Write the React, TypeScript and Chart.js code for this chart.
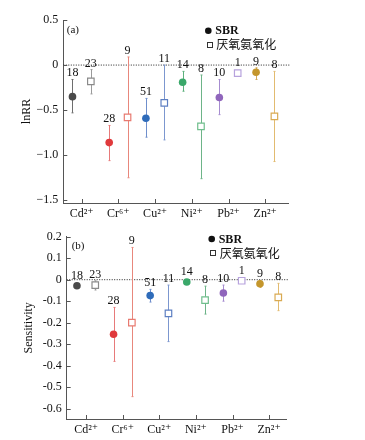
import React, { useEffect, useRef } from "react";
import { Chart, registerables } from "chart.js";

Chart.register(...registerables);

// ---------- data ----------
const categories = ["Cd²⁺", "Cr⁶⁺", "Cu²⁺", "Ni²⁺", "Pb²⁺", "Zn²⁺"];
const seriesNames = ["SBR", "厌氧氨氧化"];

// panel (a) lnRR
const lnrrSbrMean = [-0.35, -0.86, -0.59, -0.19, -0.36, -0.08];
const lnrrSbrLo = [-0.53, -1.06, -0.8, -0.29, -0.55, -0.16];
const lnrrSbrHi = [-0.16, -0.67, -0.37, -0.07, -0.16, -0.03];
const lnrrSbrN = [18, 28, 51, 14, 10, 9];
const lnrrAnaMean = [-0.18, -0.58, -0.42, -0.68, -0.09, -0.57];
const lnrrAnaLo = [-0.32, -1.25, -0.83, -1.26, null, -1.07];
const lnrrAnaHi = [-0.05, 0.09, 0.0, -0.11, null, -0.07];
const lnrrAnaN = [23, 9, 11, 8, 1, 8];
const lnrrTicks = [0.5, 0, -0.5, -1.0, -1.5];

// panel (b) sensitivity
const sensSbrMean = [-0.028, -0.254, -0.074, -0.011, -0.062, -0.019];
const sensSbrLo = [-0.036, -0.38, -0.104, -0.016, -0.1, -0.036];
const sensSbrHi = [-0.02, -0.129, -0.045, -0.006, -0.025, -0.005];
const sensSbrN = [18, 28, 51, 14, 10, 9];
const sensAnaMean = [-0.025, -0.2, -0.157, -0.095, -0.005, -0.082];
const sensAnaLo = [-0.048, -0.544, -0.288, -0.16, null, -0.144];
const sensAnaHi = [-0.005, 0.15, -0.025, -0.03, null, -0.017];
const sensAnaN = [23, 9, 11, 8, 1, 8];
const sensTicks = [0.2, 0.1, 0, -0.1, -0.2, -0.3, -0.4, -0.5, -0.6];

// ---------- styles ----------
const sbrPointColors = ["#4a4a4a", "#e0393c", "#2f6cba", "#3aa86a", "#9066bc", "#c4962c"];
const anaPointColors = ["#8a8a8a", "#e87a70", "#5d7fc2", "#6fbe8c", "#b7a2dd", "#d9aa52"];
const sbrWhiskerColors = ["#6e6e6e", "#e77a7a", "#6f8fcc", "#5cb07c", "#a68cd0", "#d2aa5c"];
const anaWhiskerColors = ["#9a9a9a", "#e8877c", "#7c97cf", "#6db488", "#bfaee0", "#e2bb70"];

const SERIF = "'Liberation Serif', 'DejaVu Serif', serif";
const CJK = "'Noto Sans CJK SC', sans-serif";
const OFFSET = 0.25;

type Panel = {
  sbrMean: number[]; sbrLo: (number | null)[]; sbrHi: (number | null)[]; sbrN: number[];
  anaMean: number[]; anaLo: (number | null)[]; anaHi: (number | null)[]; anaN: number[];
  ticks: number[]; fmt: (v: number) => string;
  yMin: number; yMax: number; xMin: number; xMax: number;
  yTitle: string; tag: string;
  padLeft: number; padRight: number; padTop: number; yAxisW: number; xAxisH: number;
  titlePad: number;
  legendDx: number; legendDy: number; tagDx: number; tagDy: number;
};

const fmtA = (v: number) => (v === 0 ? "0" : v < 0 ? "−" + Math.abs(v).toFixed(1) : v.toFixed(1));
const fmtB = (v: number) => (Math.abs(v) < 1e-9 ? "0" : v < 0 ? "-" + Math.abs(v).toFixed(1) : v.toFixed(1));

const panelA: Panel = {
  sbrMean: lnrrSbrMean, sbrLo: lnrrSbrLo, sbrHi: lnrrSbrHi, sbrN: lnrrSbrN,
  anaMean: lnrrAnaMean, anaLo: lnrrAnaLo, anaHi: lnrrAnaHi, anaN: lnrrAnaN,
  ticks: lnrrTicks, fmt: fmtA, yMin: -1.53, yMax: 0.5, xMin: -0.5, xMax: 5.62,
  yTitle: "lnRR", tag: "(a)",
  padLeft: 0, padRight: 77, padTop: 20, yAxisW: 63.3, xAxisH: 17, titlePad: 20,
  legendDx: 145, legendDy: 10.7, tagDx: 3.5, tagDy: 10,
};

const panelB: Panel = {
  sbrMean: sensSbrMean, sbrLo: sensSbrLo, sbrHi: sensSbrHi, sbrN: sensSbrN,
  anaMean: sensAnaMean, anaLo: sensAnaLo, anaHi: sensAnaHi, anaN: sensAnaN,
  ticks: sensTicks, fmt: fmtB, yMin: -0.648, yMax: 0.2, xMin: -0.53, xMax: 5.48,
  yTitle: "Sensitivity", tag: "(b)",
  padLeft: 0, padRight: 78.3, padTop: 16.7, yAxisW: 66.7, xAxisH: 21, titlePad: 22,
  legendDx: 145, legendDy: 2.3, tagDx: 5, tagDy: 9,
};

function makePlugin(p: Panel) {
  return {
    id: "customDraw",
    beforeDatasetsDraw(chart: any) {
      const { ctx, chartArea } = chart;
      const xs = chart.scales.x;
      const ys = chart.scales.y;
      ctx.save();
      // zero dotted line
      const y0 = ys.getPixelForValue(0);
      ctx.strokeStyle = "#222";
      ctx.lineWidth = 1;
      ctx.setLineDash([1, 1.5]);
      ctx.beginPath();
      ctx.moveTo(chartArea.left, y0);
      ctx.lineTo(chartArea.right + 2, y0);
      ctx.stroke();
      ctx.setLineDash([]);
      // inward ticks
      ctx.strokeStyle = "#555";
      ctx.beginPath();
      p.ticks.forEach((t) => {
        const y = Math.round(ys.getPixelForValue(t)) + 0.5;
        ctx.moveTo(chartArea.left, y);
        ctx.lineTo(chartArea.left + 4, y);
      });
      categories.forEach((_, i) => {
        const x = Math.round(xs.getPixelForValue(i)) + 0.5;
        ctx.moveTo(x, chartArea.bottom);
        ctx.lineTo(x, chartArea.bottom - 4);
      });
      ctx.stroke();
      // whiskers
      const drawW = (i: number, off: number, lo: number | null, hi: number | null, col: string) => {
        if (lo === null || hi === null) return;
        const x = Math.round(xs.getPixelForValue(i + off)) + 0.5;
        const yl = ys.getPixelForValue(lo);
        const yh = ys.getPixelForValue(hi);
        ctx.strokeStyle = col;
        ctx.lineWidth = 1;
        ctx.beginPath();
        ctx.moveTo(x, yl);
        ctx.lineTo(x, yh);
        ctx.moveTo(x - 1, yl);
        ctx.lineTo(x + 1, yl);
        ctx.moveTo(x - 1, yh);
        ctx.lineTo(x + 1, yh);
        ctx.stroke();
      };
      categories.forEach((_, i) => {
        drawW(i, -OFFSET, p.sbrLo[i], p.sbrHi[i], sbrWhiskerColors[i]);
        drawW(i, OFFSET, p.anaLo[i], p.anaHi[i], anaWhiskerColors[i]);
      });
      ctx.restore();
    },
    afterDatasetsDraw(chart: any) {
      const { ctx, chartArea } = chart;
      const xs = chart.scales.x;
      const ys = chart.scales.y;
      ctx.save();
      // n labels
      ctx.fillStyle = "#111";
      ctx.font = `12px ${SERIF}`;
      ctx.textAlign = "center";
      ctx.textBaseline = "alphabetic";
      const lab = (i: number, off: number, mean: number, hi: number | null, n: number) => {
        const x = xs.getPixelForValue(i + off);
        const top = Math.min(ys.getPixelForValue(mean) - 4, hi === null ? Infinity : ys.getPixelForValue(hi));
        ctx.fillText(String(n), x, top - 3);
      };
      categories.forEach((_, i) => {
        lab(i, -OFFSET, p.sbrMean[i], p.sbrHi[i], p.sbrN[i]);
        lab(i, OFFSET, p.anaMean[i], p.anaHi[i], p.anaN[i]);
      });
      // panel tag
      ctx.textAlign = "left";
      ctx.textBaseline = "middle";
      ctx.font = `11px ${SERIF}`;
      ctx.fillText(p.tag, chartArea.left + p.tagDx, chartArea.top + p.tagDy);
      // legend
      const lx = chartArea.left + p.legendDx;
      const ly = chartArea.top + p.legendDy;
      ctx.fillStyle = "#111";
      ctx.beginPath();
      ctx.arc(lx, ly, 3.3, 0, Math.PI * 2);
      ctx.fill();
      ctx.font = `bold 12px ${SERIF}`;
      ctx.fillText(seriesNames[0], lx + 7, ly + 0.5);
      ctx.strokeStyle = "#333";
      ctx.lineWidth = 1;
      ctx.strokeRect(Math.round(lx - 1.5) + 0.5, Math.round(ly + 11) + 0.5, 5, 5);
      ctx.font = `12px ${CJK}`;
      ctx.fillText(seriesNames[1], lx + 8, ly + 14);
      ctx.restore();
    },
  };
}

function PanelChart({ p, top }: { p: Panel; top: number }) {
  const ref = useRef<HTMLCanvasElement | null>(null);
  useEffect(() => {
    if (!ref.current) return;
    const chart = new Chart(ref.current, {
      type: "scatter",
      data: {
        datasets: [
          {
            label: seriesNames[0],
            data: p.sbrMean.map((v, i) => ({ x: i - OFFSET, y: v })),
            pointStyle: "circle",
            pointRadius: 3.8,
            pointBackgroundColor: sbrPointColors,
            pointBorderColor: sbrPointColors,
            pointBorderWidth: 0,
          },
          {
            label: seriesNames[1],
            data: p.anaMean.map((v, i) => ({ x: i + OFFSET, y: v })),
            pointStyle: "rect",
            pointRadius: 4.6,
            pointBackgroundColor: "#ffffff",
            pointBorderColor: anaPointColors,
            pointBorderWidth: 1.2,
          },
        ],
      },
      options: {
        animation: false,
        responsive: false,
        maintainAspectRatio: false,
        events: [],
        layout: { padding: { left: p.padLeft, right: p.padRight, top: p.padTop, bottom: 0 } },
        plugins: { legend: { display: false }, tooltip: { enabled: false } },
        scales: {
          x: {
            type: "linear",
            min: p.xMin,
            max: p.xMax,
            grid: { display: false, drawTicks: false },
            border: { display: true, color: "#555", width: 1 },
            afterBuildTicks: (s: any) => {
              s.ticks = categories.map((_, i) => ({ value: i }));
            },
            afterFit: (s: any) => {
              s.height = p.xAxisH;
            },
            ticks: {
              autoSkip: false,
              maxRotation: 0,
              padding: 4,
              color: "#111",
              font: { family: SERIF, size: 12 },
              callback: (v: any) => categories[Math.round(Number(v))] ?? "",
            },
          },
          y: {
            type: "linear",
            min: p.yMin,
            max: p.yMax,
            grid: { display: false, drawTicks: false },
            border: { display: true, color: "#555", width: 1 },
            afterBuildTicks: (s: any) => {
              s.ticks = p.ticks.map((v) => ({ value: v }));
            },
            afterFit: (s: any) => {
              s.width = p.yAxisW;
            },
            ticks: {
              padding: 5,
              color: "#111",
              font: { family: SERIF, size: 12 },
              callback: (v: any) => p.fmt(Number(v)),
            },
            title: {
              display: true,
              text: p.yTitle,
              color: "#111",
              font: { family: SERIF, size: 12 },
              padding: { top: p.titlePad, bottom: 0 },
            },
          },
        },
      },
      plugins: [makePlugin(p)],
    } as any);
    return () => chart.destroy();
  }, [p]);
  return (
    <canvas
      ref={ref}
      width={365}
      height={220}
      style={{ position: "absolute", left: 0, top, width: 365, height: 220 }}
    />
  );
}

export default function App() {
  return (
    <div style={{ position: "absolute", left: 0, top: 0, width: 365, height: 440, background: "#fff" }}>
      <PanelChart p={panelA} top={0} />
      <PanelChart p={panelB} top={220} />
    </div>
  );
}
